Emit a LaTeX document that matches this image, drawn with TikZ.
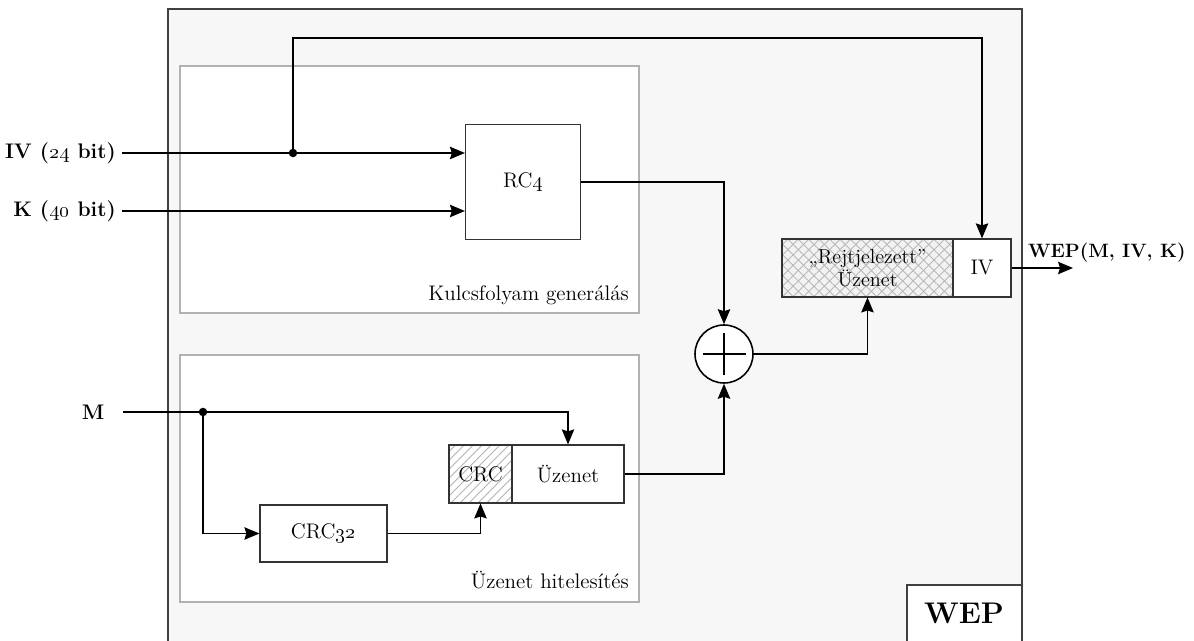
\documentclass[tikz,border=0pt]{standalone}
\usetikzlibrary{arrows.meta,positioning,calc,patterns.meta}
\begin{document}
\begin{tikzpicture}[
  x=0.02cm, y=-0.02cm,
  every node/.style={font=\fontsize{12}{14}\selectfont},
  frame/.style={draw=black!30, line width=1pt, fill=white},
  block/.style={draw=black!80, line width=0.7pt, fill=white, inner sep=0pt},
  sig/.style={-{Stealth[length=3mm,width=2.5mm,inset=0.4mm]}, line width=0.7pt},
  inlabel/.style={font=\fontsize{12}{14}\selectfont\bfseries, anchor=east},
  dot/.style={circle, fill=black, inner sep=0pt, minimum size=1.7mm}
]
  \useasboundingbox (0,0) rectangle (1194,641);
  \clip (0,0) rectangle (1194,641);

  % WEP frame and the two inner frames
  \draw[fill=black!3, draw=black!75, line width=0.8pt] (168,9) rectangle (1022,660);
  \draw[frame] (180,66) rectangle (639,313);
  \draw[frame] (180,355) rectangle (639,602);
  \node[anchor=base east] (kgen) at (635,301) {Kulcsfolyam generálás};
  \node[anchor=base east] (auth) at (635,589) {Üzenet hitelesítés};

  % Blocks
  \node[block, minimum width=2.3cm, minimum height=2.3cm] (rc4) at (523,182) {RC\oldstylenums{4}};
  \node[block, minimum width=2.54cm, minimum height=1.14cm] (crc32) at (323.5,533.5) {CRC\oldstylenums{32}};
  \node[block, preaction={fill=white},
        pattern={Lines[angle=45,distance=3.6pt,line width=0.5pt]}, pattern color=black!30,
        minimum width=1.26cm, minimum height=1.16cm] (crc) at (480.5,474) {CRC};
  \node[block, minimum width=2.24cm, minimum height=1.16cm] (uzenet) at (568,474) {Üzenet};
  \node[block, preaction={fill=black!5},
        preaction={pattern={Lines[angle=-45,distance=4.2pt,line width=0.5pt]}, pattern color=black!28},
        pattern={Lines[angle=45,distance=4.2pt,line width=0.5pt]}, pattern color=black!28,
        align=center, font=\fontsize{11.5}{13}\selectfont,
        minimum width=3.42cm, minimum height=1.16cm] (rejt) at (867.5,268) {„Rejtjelezett”\\Üzenet};
  \node[block, minimum width=1.16cm, minimum height=1.16cm] (ivbox) at (982,268) {IV};
  \node[circle, draw, line width=0.9pt, fill=white, minimum size=1.16cm, inner sep=0pt,
        path picture={
          \draw[line width=1.2pt] ([xshift=-4.3mm]path picture bounding box.center) -- ([xshift=4.3mm]path picture bounding box.center);
          \draw[line width=1.2pt] ([yshift=-4.3mm]path picture bounding box.center) -- ([yshift=4.3mm]path picture bounding box.center);
        }] (xor) at (724,354) {};

  % Inputs
  \node[inlabel] (ivin) at (122,153) {IV (\oldstylenums{24} bit)};
  \node[inlabel] (kin) at (122,211) {K (\oldstylenums{40} bit)};
  \node[inlabel, anchor=center] (m) at (93,412) {M};
  \coordinate (min) at (123,412);
  \coordinate (topturn) at (982,38);
  \coordinate (wepout) at (1073,268);
  \node[dot] (ivsplit) at (293,153) {};
  \node[dot] (msplit) at (203,412) {};

  % Connectors
  \draw[sig] (ivin.east) -- (ivin.east -| rc4.west);
  \draw[sig] (kin.east) -- (kin.east -| rc4.west);
  \draw[sig] (ivsplit.center) |- (topturn) -- (ivbox.north);
  \draw[sig] (rc4.east) -| (xor.north);
  \draw[sig] (min) -| (uzenet.north);
  \draw[sig] (msplit.center) |- (crc32.west);
  \draw[sig] (crc32.east) -| (crc.south);
  \draw[sig] (uzenet.east) -| (xor.south);
  \draw[sig] (xor.east) -| (rejt.south);
  \draw[sig] (ivbox.east) -- (wepout);
  \node[font=\fontsize{11}{13}\selectfont\bfseries, anchor=base west] (weplbl) at (1022,258) {WEP(M, IV, K)};

  % WEP title box
  \draw[fill=white, draw=black!75, line width=0.8pt] (907,585) rectangle (1022,660);
  \node[font=\fontsize{17}{20}\selectfont\bfseries] (weptitle) at (964,613) {WEP};
\end{tikzpicture}
\end{document}
